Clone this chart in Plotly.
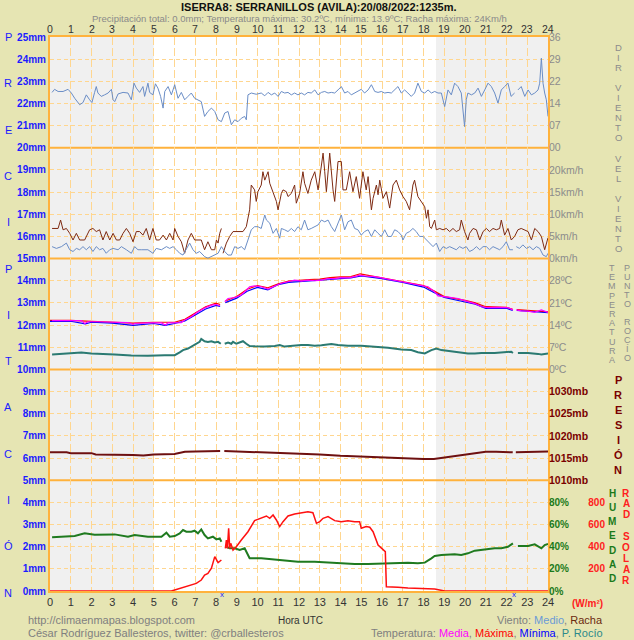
import plotly.graph_objects as go

# ---------------- DATA ----------------
hours = list(range(25))
mm_ticks = list(range(26))
mm_minor = [1, 2, 3, 4, 6, 7, 8, 9, 11, 12, 13, 14, 16, 17, 18, 19, 21, 22, 23, 24]
panel_edges = [5, 10, 15, 20]

# wind direction (degrees)
wdir_h = [0.10,0.22,0.39,0.63,0.87,1.03,1.19,1.43,1.59,1.75,
          1.91,2.02,2.15,2.23,2.31,2.47,2.63,2.80,2.96,3.04,
          3.12,3.28,3.52,3.76,3.92,4.05,4.16,4.32,4.48,4.56,
          4.72,4.80,4.96,5.08,5.20,5.33,5.45,5.53,5.69,5.85,
          6.01,6.17,6.33,6.49,6.65,6.81,6.97,7.13,7.29,7.45,
          7.61,7.78,7.94,8.10,8.26,8.42,8.58,8.74,8.90,9.06,
          9.22,9.38,9.46,9.54,9.70,9.94,10.18,10.35,10.51,10.67,
          10.83,10.99,11.15,11.31,11.47,11.63,11.79,11.95,12.11,12.27,
          12.43,12.59,12.76,12.92,13.08,13.24,13.40,13.56,13.72,13.88,
          14.04,14.20,14.36,14.52,14.68,14.84,15.00,15.16,15.33,15.49,
          15.65,15.81,15.97,16.13,16.29,16.45,16.61,16.77,16.93,17.09,
          17.25,17.41,17.57,17.73,17.90,18.06,18.22,18.38,18.54,18.70,
          18.86,19.02,19.18,19.34,19.50,19.66,19.82,19.98,20.06,20.14,
          20.31,20.47,20.63,20.79,20.95,21.11,21.27,21.43,21.59,21.75,
          21.91,22.07,22.22,22.39,22.45,22.55,22.71,22.88,23.04,23.20,
          23.36,23.52,23.60,23.68,23.76,23.84,23.92,24.00]
wdir_deg = [180,190,183,183,190,178,161,140,147,172,
            156,147,180,199,178,167,172,178,190,156,
            150,175,180,178,156,210,194,180,199,167,
            210,180,172,208,194,167,129,183,199,172,
            205,161,180,156,167,178,161,156,150,102,
            118,129,118,91,85,113,118,75,91,85,
            96,102,91,172,178,174,178,169,180,172,
            178,167,183,178,180,172,178,172,178,172,
            180,178,188,172,180,183,178,180,178,188,
            199,178,183,172,178,183,190,178,188,205,
            183,180,183,178,180,178,188,199,178,188,
            178,167,178,210,183,178,188,178,183,178,
            178,134,188,172,210,199,178,69,156,178,
            172,178,194,167,188,210,199,178,145,188,
            199,210,167,178,None,188,199,167,188,172,
            178,188,210,291,210,178,156,102]

# wind gust (km/h)
gust_h = [0.10,0.39,0.51,0.63,0.79,0.95,1.11,1.27,1.43,1.67,
          1.91,2.07,2.23,2.39,2.55,2.71,2.88,3.04,3.20,3.36,
          3.52,3.68,3.84,4.00,4.16,4.32,4.48,4.64,4.80,4.96,
          5.12,5.28,5.45,5.61,5.77,5.93,6.01,6.17,6.33,6.49,
          6.65,6.81,6.97,7.13,7.29,7.45,7.61,7.78,7.94,8.02,
          8.10,8.18,8.26,8.30,8.34,8.50,8.66,8.82,9.06,9.30,
          9.46,9.62,9.70,9.86,9.94,10.02,10.18,10.26,10.35,10.43,
          10.51,10.59,10.75,10.91,10.99,11.15,11.23,11.39,11.47,11.63,
          11.79,11.87,12.03,12.19,12.27,12.43,12.59,12.76,12.92,13.00,
          13.08,13.16,13.24,13.32,13.48,13.56,13.64,13.72,13.80,13.88,
          14.04,14.12,14.28,14.44,14.60,14.76,14.92,15.08,15.24,15.33,
          15.49,15.57,15.73,15.81,15.89,16.05,16.21,16.37,16.53,16.69,
          16.85,17.01,17.17,17.33,17.49,17.57,17.73,17.90,18.06,18.14,
          18.22,18.30,18.38,18.54,18.62,18.78,18.94,19.10,19.26,19.42,
          19.58,19.74,19.82,19.98,20.14,20.22,20.39,20.55,20.71,20.87,
          21.03,21.18,21.35,21.51,21.67,21.75,21.91,22.07,22.23,22.39,
          22.55,22.71,22.88,23.04,23.20,23.36,23.52,23.68,23.84,24.00]
gust_kmh = [6.8,6.8,8.7,6.5,6.8,5.7,4.2,5.7,4.2,4.2,
            6.5,6.8,6.1,6.5,4.2,6.1,4.2,5.7,4.2,4.2,
            5.7,6.8,5.7,3.8,6.1,6.1,5.3,6.8,4.2,6.8,
            4.2,4.2,5.3,4.2,5.7,4.2,6.8,5.0,3.8,1.2,
            4.2,5.7,4.2,4.2,4.2,2.0,3.8,2.0,2.0,4.2,
            3.5,5.7,6.8,None,1.2,3.5,5.0,6.1,6.1,6.1,
            7.2,11.0,16.6,15.5,12.9,15.1,16.6,19.6,17.7,18.9,
            19.6,17.0,14.7,12.9,11.0,14.7,15.5,15.1,14.0,14.7,
            16.6,12.5,14.7,19.6,17.0,14.7,17.7,19.6,15.5,18.5,
            21.9,23.8,19.6,15.1,23.8,18.5,15.5,12.9,16.6,21.9,
            21.9,15.5,15.5,19.6,15.1,18.5,13.6,19.6,15.5,18.5,
            11.0,13.6,16.6,14.4,17.7,13.6,15.1,11.4,16.6,17.7,
            15.5,14.0,12.9,11.0,16.6,17.7,14.0,12.9,11.7,9.1,
            11.0,7.2,6.8,8.7,6.5,6.8,6.5,6.8,6.1,6.8,
            6.1,6.5,8.7,6.1,4.2,5.7,6.8,6.5,4.2,6.1,
            6.8,6.1,6.8,6.5,6.8,8.7,5.3,6.8,4.2,5.0,
            6.5,6.8,6.5,6.1,4.2,6.8,6.1,5.0,2.0,4.7]

# mean wind (km/h)
wind_h = [0.10,0.31,0.55,0.79,0.95,1.11,1.27,1.43,1.59,1.75,
          1.91,2.07,2.23,2.39,2.55,2.71,2.88,3.04,3.28,3.44,
          3.68,3.92,4.08,4.24,4.40,4.72,4.96,5.12,5.37,5.61,
          5.77,5.93,6.09,6.25,6.41,6.57,6.73,6.89,7.05,7.21,
          7.45,7.61,7.78,7.94,8.10,8.26,8.42,8.58,8.74,8.90,
          9.06,9.22,9.38,9.54,9.70,9.86,10.02,10.18,10.35,10.43,
          10.59,10.75,10.91,11.07,11.15,11.31,11.47,11.63,11.79,11.95,
          12.11,12.27,12.43,12.59,12.76,12.92,13.08,13.24,13.40,13.56,
          13.72,13.88,14.04,14.20,14.36,14.52,14.68,14.84,15.00,15.16,
          15.33,15.49,15.65,15.81,15.97,16.13,16.29,16.45,16.61,16.77,
          16.93,17.01,17.17,17.33,17.49,17.65,17.81,17.98,18.14,18.30,
          18.46,18.62,18.78,18.94,19.10,19.26,19.42,19.58,19.74,19.90,
          20.06,20.22,20.39,20.55,20.71,20.87,21.03,21.18,21.35,21.51,
          21.67,21.83,21.99,22.15,22.31,22.40,22.47,22.63,22.79,22.96,
          23.12,23.28,23.44,23.60,23.76,23.92,24.00]
wind_kmh = [2.7,2.3,2.7,3.5,2.0,1.6,2.3,2.0,2.7,2.0,
            2.7,1.6,2.7,2.0,2.3,1.2,2.0,2.3,2.0,2.7,
            2.0,1.2,2.7,2.0,2.0,2.0,1.2,2.3,2.0,2.7,
            2.3,2.7,2.0,1.2,0.8,2.0,3.5,2.0,1.2,1.6,
            0.45,0.1,0.45,0.8,1.2,2.7,1.6,0.8,0.8,2.7,
            2.3,2.7,2.0,4.2,6.5,7.2,7.2,6.8,9.85,8.7,
            8.0,5.7,6.8,4.6,6.8,6.5,6.1,6.8,6.1,7.2,
            6.5,8.7,6.5,6.8,7.2,7.6,8.7,8.3,8.7,7.2,
            6.1,8.0,9.85,6.5,8.3,8.7,6.8,6.5,5.3,6.1,
            6.5,5.0,6.5,5.7,5.0,6.5,5.0,5.0,6.5,6.1,
            5.3,4.2,5.7,6.1,6.8,6.1,5.0,5.0,4.2,3.5,
            2.7,3.5,1.6,2.7,2.3,2.7,2.3,2.0,2.7,2.3,
            2.7,1.6,2.0,2.7,2.0,2.7,2.7,2.0,2.7,2.3,
            2.0,2.7,3.8,2.0,2.0,None,2.7,2.3,3.1,2.3,
            2.7,2.0,2.7,2.3,0.8,0.45,1.2]

# temperature (ºC)
tmean_h = [0.10,0.71,1.51,1.67,1.83,2.31,3.12,3.76,4.00,4.08,
           4.72,5.37,5.56,5.69,6.33,6.49,6.81,7.13,7.45,7.78,
           8.02,8.18,8.30,8.42,8.58,8.90,9.22,9.46,9.62,9.86,
           10.18,10.51,10.83,11.15,11.47,11.79,12.11,12.43,12.76,13.08,
           13.40,13.72,14.04,14.36,14.68,14.92,15.16,15.65,15.97,16.29,
           16.61,16.93,17.25,17.57,17.90,18.22,18.54,18.70,19.18,19.66,
           20.14,20.47,20.79,21.11,21.43,21.75,22.07,22.31,22.40,22.47,
           22.71,23.04,23.36,23.68,24.00]
tmean_c = [15.4,15.4,15.4,14.5,15.05,15.05,14.8,14.8,14.2,14.5,
           14.7,14.7,14.0,14.7,14.8,15.6,16.6,18.2,19.4,20.3,
           20.5,20.1,None,21.4,22.4,22.7,23.5,25.0,26.1,26.4,
           26.1,25.4,26.4,27.2,27.7,28.2,27.9,28.2,28.0,28.2,
           28.7,28.7,29.0,28.9,29.3,29.8,29.5,29.3,28.9,28.5,
           28.2,27.7,27.2,26.8,26.4,26.1,24.5,23.2,22.8,22.4,
           21.4,20.8,19.8,19.5,19.6,19.5,19.5,18.8,None,18.8,
           18.5,18.4,18.0,18.8,18.0]
tmax_h = [0,1,2,3,4,5,6,6.5,7,7.5,
          8,8.2,8.3,8.45,9,9.5,10,10.5,11,11.5,
          12,12.5,13,13.5,14,14.5,14.95,15.5,16,17,
          18,18.5,19,20,20.5,21,21.5,22,22.3,22.4,
          22.5,23,23.5,24]
tmax_c = [15.5,15.5,15.2,15.0,14.6,14.9,14.9,15.8,17.8,19.8,
          20.9,20.5,None,21.6,23.0,25.3,26.5,25.8,27.0,27.9,
          28.2,28.4,28.5,29.0,29.2,29.3,30.2,29.5,29.0,27.8,
          26.5,24.8,23.0,21.8,21.0,19.8,19.8,19.6,19.0,None,
          18.9,18.6,18.4,18.2]
tmin_h = [0,1,1.7,2,3,4,5,5.55,6,6.5,
          7,7.5,8,8.2,8.3,8.45,9,9.5,10,10.5,
          11,11.5,12,12.5,13,13.5,14,14.5,15,15.5,
          16,17,18,18.5,19,20,20.5,21,21.5,22,
          22.3,22.4,22.5,23,23.5,24]
tmin_c = [15.2,15.2,14.4,14.9,14.6,13.9,14.5,13.9,14.5,15.3,
          17.2,19.1,20.2,19.9,None,21.1,22.5,24.7,25.9,25.1,
          26.8,27.5,27.7,27.9,28.0,28.4,28.7,28.9,29.5,29.1,
          28.7,27.5,26.0,24.3,22.7,21.3,20.6,19.3,19.4,19.3,
          18.6,None,18.6,18.3,18.0,17.9]
dew_h = [0.10,0.71,1.51,1.99,2.79,3.12,3.92,4.72,5.53,6.01,
         6.25,6.41,6.65,6.97,7.21,7.29,7.45,7.61,7.78,7.94,
         8.10,8.23,8.32,8.42,8.58,8.74,8.82,8.98,9.14,9.30,
         9.46,9.62,9.86,10.35,10.83,11.07,11.31,11.79,12.11,12.43,
         12.76,13.08,13.56,13.88,14.36,15.00,15.65,16.29,16.93,17.41,
         17.73,18.06,18.38,18.62,18.86,19.18,19.82,20.14,20.47,20.79,
         21.43,22.07,22.23,22.31,22.40,22.55,23.04,23.52,23.68,24.00]
dew_c = [4.7,4.9,5.3,5.05,4.9,4.7,4.4,4.3,4.5,4.5,
         5.4,6.1,6.6,7.7,8.7,9.6,8.9,8.7,8.9,8.5,
         8.7,8.1,None,8.1,8.5,8.1,8.7,8.1,8.5,8.9,
         8.1,7.4,7.3,7.2,7.4,7.7,7.2,7.6,7.7,7.7,
         7.5,7.6,8.0,7.7,7.5,7.5,7.2,6.8,6.3,6.1,
         5.4,5.05,6.1,6.6,6.1,5.8,5.3,5.05,5.05,5.2,
         5.2,5.4,5.6,5.2,None,5.2,5.2,4.9,4.7,5.05]

# pressure (mb)
pres_h = [0,0.8,1,2,2.2,3,4,4.5,5,6,
          6.5,7,8,8.2,8.3,8.4,9,10,11,12,
          13,14,15,16,17,18,18.5,19,19.5,20,
          20.5,21,21.5,22,22.3,22.4,22.45,23,23.5,24]
pres_mb = [1016.3,1016.3,1016.1,1016.1,1015.8,1015.8,1015.7,1015.6,1015.8,1015.9,
           1016.4,1016.5,1016.6,1016.6,None,1016.6,1016.5,1016.4,1016.2,1016.0,
           1015.8,1015.5,1015.3,1015.1,1014.9,1014.8,1014.8,1015.1,1015.4,1015.7,
           1016.0,1016.4,1016.4,1016.4,1016.3,None,1016.3,1016.4,1016.4,1016.5]

# relative humidity (%)
hum_h = [0.10,0.71,1.19,1.67,2.15,3.12,3.76,4.08,4.72,5.37,
         5.61,5.77,6.01,6.25,6.41,6.57,6.81,6.97,7.13,7.29,
         7.45,7.61,7.85,8.02,8.18,8.26,8.35,8.50,8.66,8.90,
         9.14,9.38,9.54,9.62,10.18,10.99,11.47,11.95,12.76,13.56,
         14.04,14.68,15.33,15.97,16.61,17.25,17.73,18.06,18.38,18.54,
         18.86,19.50,19.82,20.14,20.47,20.79,21.11,21.43,21.75,22.07,
         22.31,22.40,22.55,23.04,23.36,23.52,23.68,23.84,24.00]
hum_pct = [48.4,49.0,49.6,52.0,50.8,51.1,49.0,50.5,49.0,49.0,
           52.6,49.0,49.6,52.0,55.0,53.5,53.5,54.4,52.0,55.6,
           50.5,47.5,49.0,46.6,47.5,44.5,None,39.9,38.5,38.5,
           37.0,38.5,32.5,29.5,29.5,28.0,27.1,26.5,26.5,25.6,
           25.6,24.4,24.4,25.0,25.6,25.6,25.0,25.6,29.5,31.6,
           32.5,33.1,32.5,34.0,36.4,37.0,38.2,38.5,38.5,39.9,
           43.0,None,40.6,40.6,42.1,40.6,38.5,41.5,42.4]

# solar radiation (W/m2)
rad_h = [0,5.85,6.01,6.25,6.49,6.81,7.05,7.29,7.45,7.61,
         7.78,7.94,8.02,8.10,8.26,8.35,8.45,8.50,8.55,8.61,
         8.66,8.71,8.82,8.98,9.22,9.54,9.86,10.18,10.43,10.59,
         10.75,10.91,11.07,11.23,11.47,11.79,12.11,12.43,12.67,12.84,
         13.00,13.16,13.40,13.72,14.04,14.36,14.68,14.92,15.00,15.24,
         15.41,15.57,15.81,15.97,16.05,16.16,16.21,16.29,16.77,17.25,
         17.90,18.54,19.02,24.00]
rad_wm2 = [0,0,9,24,39,54,69,99,144,159,
           205,310,280,256,280,None,385,460,385,566,
           385,430,370,400,460,535,635,656,677,656,
           686,641,581,626,677,695,707,716,707,611,
           626,656,671,635,626,635,626,626,566,581,
           575,535,415,385,370,355,39,39,33,27,
           21,18,0,0]

gap_hours = [8.3, 22.35]
night_spans = [(0, 5), (18.6, 24)]

dir_ticks = [0, 72, 144, 216, 288, 360]
dir_text = ["00", "07", "14", "22", "29", "36"]
speed_ticks = [0, 5, 10, 15, 20]
temp_ticks = [0, 7, 14, 21, 28]
pres_ticks = [1010, 1015, 1020, 1025, 1030]
hum_ticks = [0, 20, 40, 60, 80]
rad_ticks = [0, 200, 400, 600, 800]

# ---------------- LAYOUT GEOMETRY ----------------
W, H = 634, 640
L, R, T, B = 50, 0, 37, 49
PW = W - L - R
PH = H - T - B
XD = 498 / PW
FONT = "Liberation Sans, Arial, sans-serif"
ORANGE = "#FFB23C"
GRID = "#FFD68F"
GRAY = "#8C8C8C"
BG = "#E6E5B3"


def px(x):
    return (x - L) / PW


def py(y):
    return (H - B - y) / PH


def panel_range(v_at_base, base_mm, per_mm):
    return [v_at_base - base_mm * per_mm, v_at_base + (25 - base_mm) * per_mm]


fig = go.Figure()

fig.add_trace(go.Scatter(x=wdir_h, y=wdir_deg, yaxis="y2", mode="lines",
                         line=dict(color="#6A8DC6", width=1), name="Dir"))
fig.add_trace(go.Scatter(x=gust_h, y=gust_kmh, yaxis="y3", mode="lines",
                         line=dict(color="#7E2A12", width=1), name="Racha"))
fig.add_trace(go.Scatter(x=wind_h, y=wind_kmh, yaxis="y3", mode="lines",
                         line=dict(color="#6A8DC6", width=1), name="Medio"))
fig.add_trace(go.Scatter(x=tmax_h, y=tmax_c, yaxis="y4", mode="lines",
                         line=dict(color="#FF0000", width=1.2), name="Máxima"))
fig.add_trace(go.Scatter(x=tmin_h, y=tmin_c, yaxis="y4", mode="lines",
                         line=dict(color="#0000FF", width=1.2), name="Mínima"))
fig.add_trace(go.Scatter(x=tmean_h, y=tmean_c, yaxis="y4", mode="lines",
                         line=dict(color="#FF00FF", width=1.2), name="Media"))
fig.add_trace(go.Scatter(x=dew_h, y=dew_c, yaxis="y4", mode="lines",
                         line=dict(color="#2B7A72", width=2), name="P. Rocío"))
fig.add_trace(go.Scatter(x=pres_h, y=pres_mb, yaxis="y5", mode="lines",
                         line=dict(color="#6E1010", width=2), name="Presión"))
fig.add_trace(go.Scatter(x=hum_h, y=hum_pct, yaxis="y6", mode="lines",
                         line=dict(color="#1F7A1F", width=2), name="Humedad"))
fig.add_trace(go.Scatter(x=rad_h, y=rad_wm2, yaxis="y7", mode="lines",
                         line=dict(color="#FF1010", width=1.5), name="Rad"))

common_over = dict(overlaying="y", showgrid=False, zeroline=False, showline=False,
                   ticks="", automargin=False, fixedrange=True)

fig.update_layout(
    width=W, height=H,
    margin=dict(l=L, r=R, t=T, b=B, pad=0),
    paper_bgcolor=BG,
    plot_bgcolor="#FFFFFF",
    showlegend=False,
    font=dict(family=FONT, size=11, color="#333333"),
    xaxis=dict(domain=[0, XD], range=[0, 24], tickvals=hours, ticks="",
               showgrid=True, gridcolor=GRID, griddash="8px,3px", gridwidth=1,
               showline=True, mirror=True, linecolor=ORANGE, linewidth=2,
               zeroline=False, tickfont=dict(size=11, color="#333333"),
               automargin=False, anchor="y", fixedrange=True),
    yaxis=dict(domain=[0, 1], range=[0, 25], tickvals=mm_ticks,
               ticktext=[f"<b>{v}mm</b>" for v in mm_ticks], ticks="",
               tickfont=dict(size=10, color="#1C1CFF"),
               showgrid=False,
               minor=dict(tickvals=mm_minor, showgrid=True, gridcolor=GRID,
                          griddash="4px,3px", gridwidth=1, ticks=""),
               showline=True, mirror=True, linecolor=ORANGE, linewidth=2,
               zeroline=False, automargin=False, fixedrange=True),
    yaxis2=dict(side="right", anchor="x", range=panel_range(0, 20, 72),
                tickvals=dir_ticks, ticktext=dir_text,
                tickfont=dict(size=10.5, color=GRAY), **common_over),
    yaxis3=dict(side="right", anchor="x", range=panel_range(0, 15, 5),
                tickvals=speed_ticks, ticktext=[f"{v}km/h" for v in speed_ticks],
                tickfont=dict(size=10.5, color=GRAY), **common_over),
    yaxis4=dict(side="right", anchor="x", range=panel_range(0, 10, 7),
                tickvals=temp_ticks, ticktext=[f"{v}ºC" for v in temp_ticks],
                tickfont=dict(size=10.5, color=GRAY), **common_over),
    yaxis5=dict(side="right", anchor="x", range=panel_range(1010, 5, 5),
                tickvals=pres_ticks, ticktext=[f"<b>{v}mb</b>" for v in pres_ticks],
                tickfont=dict(size=10.5, color="#7A0000"), **common_over),
    yaxis6=dict(side="right", anchor="x", range=panel_range(0, 0, 20),
                tickvals=hum_ticks, ticktext=[f"<b>{v}%</b>" for v in hum_ticks],
                tickfont=dict(size=10, color="#1A7A1A"), **common_over),
    yaxis7=dict(side="right", anchor="free", position=px(608), range=panel_range(0, 0, 200),
                tickvals=rad_ticks, ticktext=[f"<b>{v}</b>" for v in rad_ticks],
                ticklabelposition="inside",
                tickfont=dict(size=10, color="#FF2020"), **common_over),
)

for a, b in night_spans:
    fig.add_shape(type="rect", xref="x", yref="y", x0=a, x1=b, y0=0, y1=25,
                  fillcolor="#F0F0F0", line=dict(width=0), layer="below")
for v in panel_edges:
    fig.add_shape(type="line", xref="x", yref="y", x0=0, x1=24, y0=v, y1=v,
                  line=dict(color=ORANGE, width=2), layer="below")

for g in gap_hours:
    fig.add_annotation(x=g, y=0, xref="x", yref="y", text="x", showarrow=False,
                       yshift=-3, font=dict(size=8, color="#1C1CFF"))

# top hour labels
for hv in hours:
    fig.add_annotation(x=hv, y=py(29), xref="x", yref="paper", text=str(hv),
                       showarrow=False, yanchor="middle",
                       font=dict(size=10.5, color="#333333"))


def ann(text, x, y, size=11, color="#333333", xanchor="center", bold=False):
    fig.add_annotation(x=px(x), y=py(y), xref="paper", yref="paper",
                       text=f"<b>{text}</b>" if bold else text, showarrow=False,
                       xanchor=xanchor, yanchor="middle",
                       font=dict(size=size, color=color))


def vtext(s, x, y0, step, color, size, bold=False):
    for i, ch in enumerate(s):
        if ch != " ":
            ann(ch, x, y0 + i * step, size=size, color=color, bold=bold)


ann("ISERRA8: SERRANILLOS (AVILA):20/08/2022:1235m.", 319, 7.5, size=11,
    color="#111111", bold=True)
ann("Precipitación total: 0.0mm; Temperatura máxima: 30.2ºC, mínima: 13.9ºC; Racha máxima: 24Km/h",
    299, 19, size=9.5, color="#8A8A8A")

vtext("PRECIPITACIÓN", 8, 37, 46.3, "#1C1CFF", 11)

vtext("DIR VIENTO", 618, 47, 10.1, GRAY, 9.5)
vtext("VEL VIENTO", 618, 158, 10.1, GRAY, 9.5)
vtext("TEMPERATURA", 612, 268, 9.2, GRAY, 9)
vtext("PUNTO ROCÍO", 627, 268, 9.0, GRAY, 9)
vtext("PRESIÓN", 618, 380, 15, "#7A0000", 11, bold=True)
vtext("HUMEDAD", 612, 493, 14.3, "#1A7A1A", 10, bold=True)
vtext("RAD SOLAR", 626, 493, 10.9, "#FF2020", 10, bold=True)

ann("<b>(W/m²)</b>", 605, 604, size=10, color="#FF2020", xanchor="right")
ann("Hora UTC", 300, 620, size=10, color="#333333")
ann("http://climaenmapas.blogspot.com", 26, 620, size=11, color="#808080", xanchor="left")
ann("César Rodríguez Ballesteros, twitter: @crballesteros", 26, 633, size=11,
    color="#808080", xanchor="left")
ann("Viento: <span style='color:#6A9AD6'>Medio</span>, <span style='color:#6B2A10'>Racha</span>",
    605, 620, size=11, color="#808080", xanchor="right")
ann("Temperatura: <span style='color:#FF00FF'>Media</span>, <span style='color:#FF0000'>Máxima</span>, "
    "<span style='color:#0000FF'>Mínima</span>, <span style='color:#2B8A8A'>P. Rocío</span>",
    605, 633, size=11, color="#808080", xanchor="right")

fig.write_html("out.html", config={"displayModeBar": False, "staticPlot": False},
               post_script="document.body.style.margin='0px';"
                           "document.body.style.background='" + BG + "';")
